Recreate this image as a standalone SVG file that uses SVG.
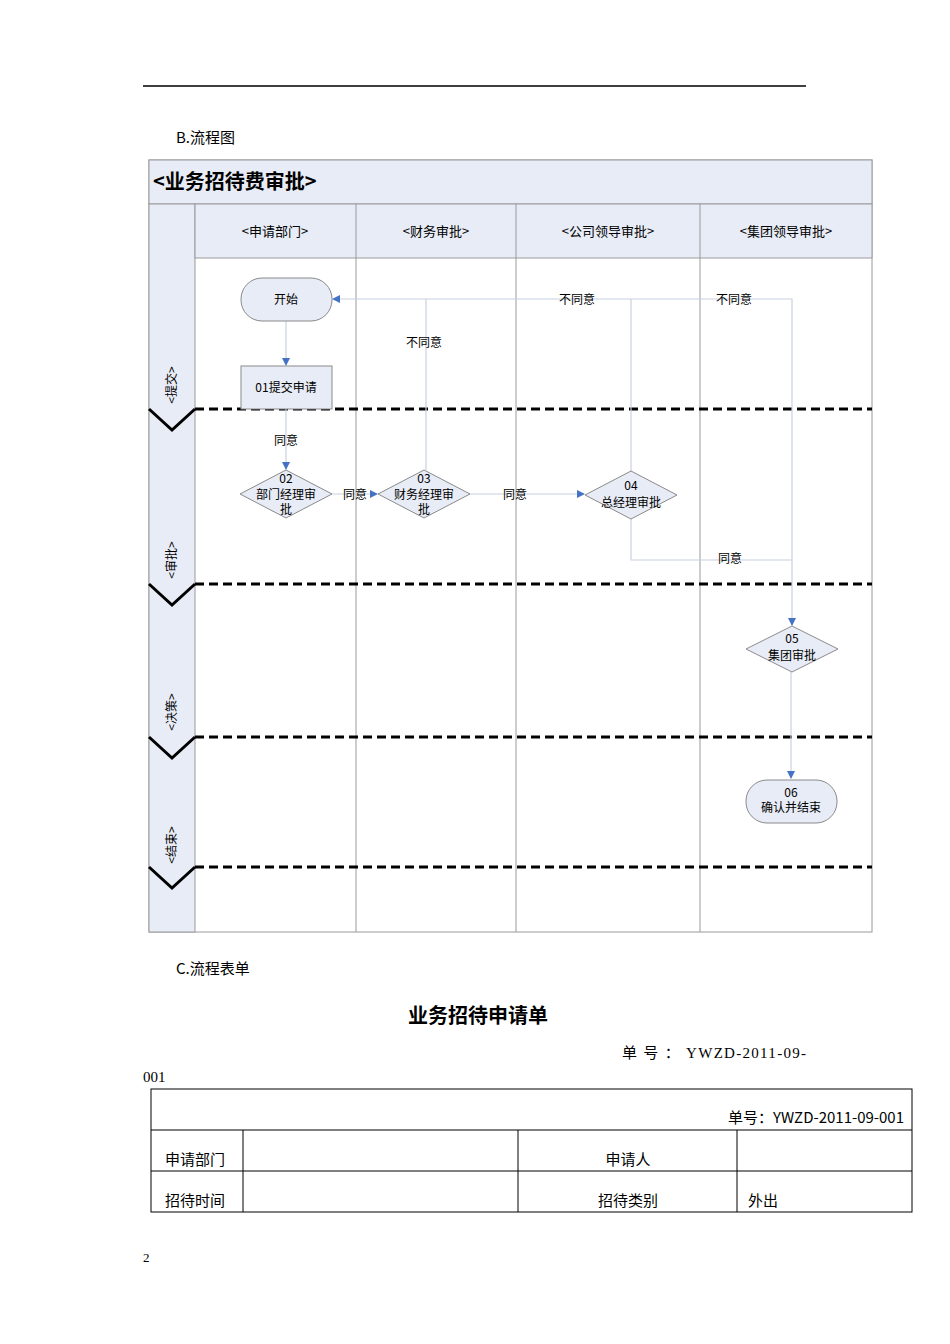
<svg xmlns="http://www.w3.org/2000/svg" width="950" height="1344" viewBox="0 0 950 1344">
<style>
.t{font-family:"Noto Sans CJK SC","Liberation Sans",sans-serif;font-size:12px;fill:#000}
.s{font-family:"Liberation Serif","Noto Sans CJK SC",serif;font-size:15px;fill:#000}
.hd{font-family:"Noto Sans CJK SC",sans-serif;font-size:13px;fill:#000;text-anchor:middle}
.c{text-anchor:middle}
.node{fill:#e8ecf6;stroke:#8a8a8a;stroke-width:1}
.cn{stroke:#c8d0e0;stroke-width:1.2;fill:none}
.dash{stroke:#000;stroke-width:3;stroke-dasharray:9,5}
.grid{stroke:#9a9a9a;stroke-width:1;fill:none}
</style>
<defs><marker id="a" markerWidth="8" markerHeight="8" refX="7" refY="4" orient="auto" markerUnits="userSpaceOnUse"><path d="M0,0L8,4L0,8Z" fill="#4472c4"/></marker></defs>
<rect width="950" height="1344" fill="#fff"/>
<line x1="143" y1="86" x2="806" y2="86" stroke="#000" stroke-width="1.5"/>
<text x="176" y="143" font-family="Noto Sans CJK SC,sans-serif" font-size="15">B.流程图</text>
<g id="pool">
<rect x="149" y="160" width="723" height="772" fill="#fff" stroke="#9a9a9a"/>
<rect x="149" y="160" width="723" height="44" fill="#e8ecf6" stroke="#9a9a9a"/>
<text x="153" y="189" font-family="Noto Sans CJK SC,sans-serif" font-size="20" font-weight="bold">&lt;业务招待费审批&gt;</text>
<rect x="149" y="204" width="46" height="728" fill="#e8ecf6" stroke="#9a9a9a"/>
<rect x="195" y="204" width="677" height="54" fill="#e8ecf6" stroke="#9a9a9a"/>
<line class="grid" x1="356" y1="204" x2="356" y2="932"/>
<line class="grid" x1="516" y1="204" x2="516" y2="932"/>
<line class="grid" x1="700" y1="204" x2="700" y2="932"/>
<text class="hd" x="275" y="236">&lt;申请部门&gt;</text>
<text class="hd" x="436" y="236">&lt;财务审批&gt;</text>
<text class="hd" x="608" y="236">&lt;公司领导审批&gt;</text>
<text class="hd" x="786" y="236">&lt;集团领导审批&gt;</text>
<g font-family="Noto Sans CJK SC,sans-serif" font-size="12" text-anchor="middle">
<text transform="translate(176,385) rotate(-90)">&lt;提交&gt;</text>
<text transform="translate(176,560) rotate(-90)">&lt;审批&gt;</text>
<text transform="translate(176,712) rotate(-90)">&lt;决策&gt;</text>
<text transform="translate(176,845) rotate(-90)">&lt;结束&gt;</text>
</g>
<g class="dash">
<line x1="195" y1="409" x2="872" y2="409"/><line x1="195" y1="584" x2="872" y2="584"/>
<line x1="195" y1="737" x2="872" y2="737"/><line x1="195" y1="867" x2="872" y2="867"/>
</g>
<g fill="none" stroke="#000" stroke-width="3">
<path d="M149,409L172,430L195,409"/><path d="M149,584L172,605L195,584"/>
<path d="M149,737L172,758L195,737"/><path d="M149,867L172,888L195,867"/>
</g>
</g>
<g id="connectors">
<line class="cn" x1="286" y1="321" x2="286" y2="365" marker-end="url(#a)"/>
<line class="cn" x1="286" y1="409" x2="286" y2="469" marker-end="url(#a)"/>
<line class="cn" x1="332" y1="494" x2="377" y2="494" marker-end="url(#a)"/>
<line class="cn" x1="470" y1="494" x2="584" y2="494" marker-end="url(#a)"/>
<polyline class="cn" points="426,470 426,299 792,299 792,625" marker-end="url(#a)"/>
<line class="cn" x1="426" y1="299" x2="333" y2="299" marker-end="url(#a)"/>
<line class="cn" x1="631" y1="471" x2="631" y2="299"/>
<polyline class="cn" points="631,519 631,560 792,560"/>
<line class="cn" x1="791" y1="672" x2="791" y2="778" marker-end="url(#a)"/>
<g class="t c">
<text x="286" y="445">同意</text>
<text x="355" y="499">同意</text>
<text x="515" y="499">同意</text>
<text x="424" y="347">不同意</text>
<text x="577" y="304">不同意</text>
<text x="734" y="304">不同意</text>
<text x="730" y="563">同意</text>
</g>
</g>
<g id="start"><rect class="node" x="241" y="278" width="91" height="43" rx="21"/><text class="t c" x="286" y="304">开始</text></g>
<g id="n01"><rect class="node" x="241" y="366" width="91" height="43"/><text class="t c" x="286" y="392">01提交申请</text></g>
<g id="n02"><polygon class="node" points="240,494 286,470 332,494 286,518"/><text class="t c" x="286" y="483" fill="#555">02</text><text class="t c" x="286" y="499">部门经理审</text><text class="t c" x="286" y="514">批</text></g>
<g id="n03"><polygon class="node" points="378,494 424,470 470,494 424,518"/><text class="t c" x="424" y="483" fill="#555">03</text><text class="t c" x="424" y="499">财务经理审</text><text class="t c" x="424" y="514">批</text></g>
<g id="n04"><polygon class="node" points="585,495 631,471 677,495 631,519"/><text class="t c" x="631" y="490" fill="#555">04</text><text class="t c" x="631" y="507">总经理审批</text></g>
<g id="n05"><polygon class="node" points="746,649 792,626 838,649 792,672"/><text class="t c" x="792" y="643" fill="#555">05</text><text class="t c" x="792" y="660">集团审批</text></g>
<g id="n06"><rect class="node" x="746" y="780" width="91" height="43" rx="21"/><text class="t c" x="791" y="797" fill="#555">06</text><text class="t c" x="791" y="812">确认并结束</text></g>
<text x="176" y="974" font-family="Noto Sans CJK SC,sans-serif" font-size="15">C.流程表单</text>
<text x="478" y="1023" text-anchor="middle" font-family="Noto Sans CJK SC,sans-serif" font-size="20" font-weight="bold">业务招待申请单</text>
<text class="s" x="622" y="1058" textLength="184">单 号 ：  YWZD-2011-09-</text>
<text class="s" x="143" y="1082">001</text>
<g fill="none" stroke="#000" stroke-width="1">
<rect x="151" y="1089" width="761" height="123"/>
<line x1="151" y1="1130" x2="912" y2="1130"/><line x1="151" y1="1171" x2="912" y2="1171"/>
<line x1="243" y1="1130" x2="243" y2="1212"/><line x1="518" y1="1130" x2="518" y2="1212"/><line x1="737" y1="1130" x2="737" y2="1212"/>
</g>
<text x="904" y="1123" text-anchor="end" font-family="Noto Sans CJK SC,sans-serif" font-size="15">单号：YWZD-2011-09-001</text>
<g font-family="Noto Sans CJK SC,serif" font-size="15">
<text x="165" y="1165">申请部门</text><text x="628" y="1165" text-anchor="middle">申请人</text>
<text x="165" y="1206">招待时间</text><text x="628" y="1206" text-anchor="middle">招待类别</text><text x="748" y="1206">外出</text>
</g>
<text class="s" x="143" y="1262" style="font-size:13px">2</text>
</svg>
